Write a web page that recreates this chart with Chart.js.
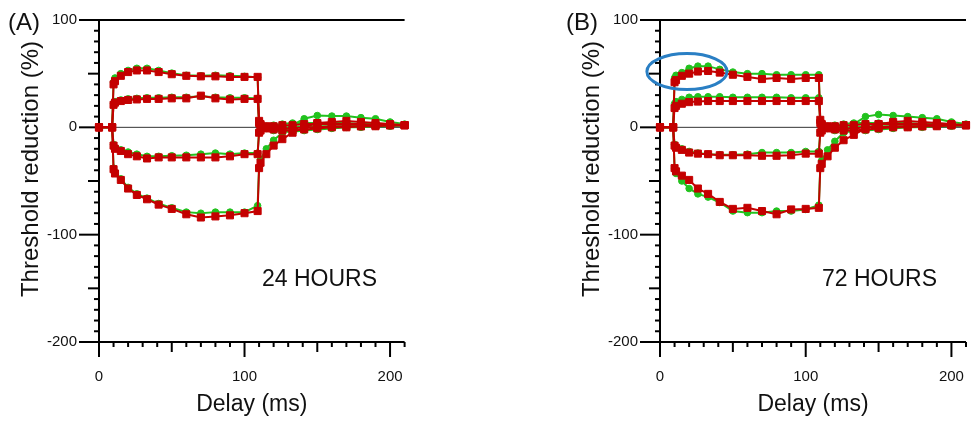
<!DOCTYPE html>
<html>
<head>
<meta charset="utf-8">
<title>Threshold electrotonus</title>
<script src="https://cdn.jsdelivr.net/npm/chart.js@4.4.1/dist/chart.umd.min.js"></script>
<style>
  html, body { margin: 0; padding: 0; background: #fff; overflow: hidden; }
  #wrap { position: relative; width: 976px; height: 422px; }
  canvas { position: absolute; top: 0; }
  .lbl { position: absolute; font-family: "Liberation Sans", Arial, sans-serif; color: #111; line-height: 1; white-space: nowrap; }
  .tag { top: 10px; font-size: 24px; }
  .hours { top: 267px; font-size: 23px; }
</style>
</head>
<body>
<div id="wrap">
  <canvas id="chartA" width="488" height="422" style="left:0"></canvas>
  <canvas id="chartB" width="488" height="422" style="left:488px"></canvas>
  <div class="lbl tag" style="left:8px">(A)</div>
  <div class="lbl tag" style="left:566px">(B)</div>
  <div class="lbl hours" style="left:262px">24 HOURS</div>
  <div class="lbl hours" style="left:822px">72 HOURS</div>
</div>
<script>
// Delays (ms) shared by every curve
const delays = [0, 9, 10, 11, 15, 20, 26, 33, 41, 50, 60, 70, 80, 90, 100, 109,
                110, 111, 115, 120, 126, 133, 141, 150, 160, 170, 180, 190, 200, 210];

// Axis ticks
const xTicks = [0, 100, 200];
const yTicks = [-200, -100, 0, 100];

// Panel A - 24 hours
const redA_TEd40   = [0, 0, 40, 43, 48, 51.5, 53, 53, 51.5, 49.5, 48, 47.5, 47.5, 47, 47, 47, 6, 3, 0, -2, -3, -3, -2, -1, 0, 0, 1, 1, 2, 2];
const greenA_TEd40 = [0, 0, 42, 46, 50, 53, 55, 55, 53, 50.5, 48.5, 48, 48.5, 48, 47.5, 46.5, 5, 2, -1, -3, -4, -4, -3, -2, -1, 0, 0, 1, 1, 2];
const redA_TEd20   = [0, 0, 21, 23, 24.5, 25.5, 26, 26.5, 26.5, 27, 27, 29.5, 27, 26, 26.5, 26.5, 4, 2, 1, 0, -1, -1, 0, 0, 1, 1, 1, 2, 2, 2];
const greenA_TEd20 = [0, 0, 22, 24, 25.5, 26.5, 27, 27.5, 27.5, 28, 28, 29, 28, 27.5, 27.5, 27, 4, 2, 1, 0, 0, 0, 1, 1, 1, 1, 2, 2, 2, 2];
const redA_TEh20   = [0, 0, -17, -20, -22, -25, -27, -29, -28, -28, -28, -28, -28, -27, -25, -25, -5, -3, -1, 1, 2, 2, 3, 3, 3, 3, 3, 2, 2, 2];
const greenA_TEh20 = [0, 0, -16, -19, -21, -23, -25, -27, -27, -26.5, -26, -25, -24, -25, -24, -24, -4, -2, 0, 2, 3, 4, 4, 4, 4, 4, 3, 3, 2, 2];
const redA_TEh40   = [0, 0, -39, -43, -49, -57, -63, -67, -72, -76, -81, -84, -83, -82, -80, -78, -38, -33, -25, -17, -11, -5, 0, 4, 5, 6, 5, 4, 3, 2];
const greenA_TEh40 = [0, 0, -38, -42, -48, -56, -62, -66, -71, -75, -79, -80, -79, -79, -79, -73, -37, -30, -20, -12, -5, 2, 8, 11, 10.5, 10.5, 9, 8, 5, 3];

// Panel B - 72 hours
const redB_TEd40   = [0, 0, 42, 44, 48, 50, 52, 52.5, 51, 49, 47, 45, 46, 45, 46, 46, 7, 3, 0, -2, -3, -3, -2, -1, 0, 0, 1, 1, 2, 2];
const greenB_TEd40 = [0, 0, 46, 48.5, 51, 55, 57, 57, 54, 51.5, 50, 50, 49, 49, 49, 49, 6, 2, -1, -3, -4, -4, -3, -2, -1, 0, 0, 1, 1, 2];
const redB_TEd20   = [0, 0, 18, 20, 22, 23.5, 24, 24.5, 24.5, 24.5, 24.5, 24.5, 24.5, 24.5, 24.5, 24.5, 4, 2, 1, 0, -1, -1, 0, 0, 1, 1, 1, 2, 2, 2];
const greenB_TEd20 = [0, 0, 22, 24, 26, 28, 28.5, 28.5, 28.5, 28, 28, 28, 28, 27.5, 27.5, 27.5, 4, 2, 1, 0, 0, 0, 1, 1, 1, 1, 2, 2, 2, 2];
const redB_TEh20   = [0, 0, -17, -19, -21, -23.5, -24.5, -25, -26, -26, -26, -26.5, -26.5, -26, -24.5, -24.5, -5, -3, -1, 1, 2, 2, 3, 3, 3, 3, 3, 2, 2, 2];
const greenB_TEh20 = [0, 0, -16, -18, -20, -22.5, -24, -25, -25.5, -25.5, -25, -23.5, -23.5, -23.5, -22.5, -22.5, -4, -2, 0, 2, 3, 4, 4, 4, 4, 4, 3, 3, 2, 2];
const redB_TEh40   = [0, 0, -38, -41, -45, -49, -57, -62, -69.5, -76, -75, -78, -81, -76.5, -76, -75, -38, -34, -27, -19, -12, -7, -1, 3, 5, 6, 5, 4, 3, 2];
const greenB_TEh40 = [0, 0, -38, -43, -50, -57, -62, -65, -70, -78, -79.5, -79.5, -78, -78, -76.5, -72.5, -37, -31, -21, -13, -5, 3, 10, 12, 11, 10, 9, 8, 5, 3];

// Highlighted region in panel B (data units: centre ms, centre %, half-width ms, half-height %)
const highlightB = { x: 18.5, y: 52, rx: 27.5, ry: 16.8 };

const RED = '#c40000';
const GREEN = '#22c21e';
const FONT = '"Liberation Sans", Arial, sans-serif';

function series(values, isRed) {
    const color = isRed ? RED : GREEN;
    return {
        data: delays.map((d, i) => ({ x: d, y: values[i] })),
        borderColor: color,
        backgroundColor: color,
        borderWidth: 2,
        pointStyle: isRed ? 'rect' : 'circle',
        pointRadius: isRed ? 5 : 3.3,
        pointBorderWidth: 1,
        order: isRed ? 0 : 1,
        clip: false,
        tension: 0
    };
}

function strokeLine(ctx, x1, y1, x2, y2) {
    ctx.beginPath();
    ctx.moveTo(x1, y1);
    ctx.lineTo(x2, y2);
    ctx.stroke();
}

// Axis lines, minor ticks, zero line, y title and the blue ellipse
const axisMarks = {
    id: 'axisMarks',
    beforeDatasetsDraw(chart, args, opts) {
        const { ctx, chartArea: a, scales: { x, y } } = chart;
        ctx.save();
        const y0 = y.getPixelForValue(0);
        ctx.strokeStyle = '#333';
        ctx.lineWidth = 1;
        strokeLine(ctx, a.left, y0, a.right, y0);

        ctx.strokeStyle = '#000';
        ctx.lineWidth = 2;
        strokeLine(ctx, a.left, a.top, a.right, a.top);
        strokeLine(ctx, a.left, a.bottom, a.right, a.bottom);
        strokeLine(ctx, a.left, a.top, a.left, a.bottom);

        for (let v = y.min; v <= y.max; v += 10) {
            const p = y.getPixelForValue(v);
            const len = v % 100 === 0 ? 20 : (v % 50 === 0 ? 11 : 5);
            strokeLine(ctx, a.left - len, p, a.left, p);
        }
        for (let v = x.min; v <= x.max; v += 10) {
            const p = x.getPixelForValue(v);
            const len = v % 100 === 0 ? 15 : (v % 50 === 0 ? 10 : 5);
            strokeLine(ctx, p, a.bottom, p, a.bottom + len);
        }

        // y axis title
        ctx.fillStyle = '#111';
        ctx.font = '24px ' + FONT;
        ctx.textAlign = 'center';
        ctx.textBaseline = 'middle';
        ctx.translate(opts.titleX, (a.top + a.bottom) / 2 - 12);
        ctx.rotate(-Math.PI / 2);
        ctx.fillText('Threshold reduction (%)', 0, 0);
        ctx.restore();
    },
    afterDatasetsDraw(chart, args, opts) {
        const h = opts.highlight;
        if (!h) return;
        const { ctx, scales: { x, y } } = chart;
        const cx = x.getPixelForValue(h.x);
        const cy = y.getPixelForValue(h.y);
        const rx = x.getPixelForValue(h.x + h.rx) - cx;
        const ry = cy - y.getPixelForValue(h.y + h.ry);
        ctx.save();
        ctx.strokeStyle = '#2a7fc4';
        ctx.lineWidth = 3;
        ctx.beginPath();
        ctx.ellipse(cx, cy, rx, ry, 0, 0, Math.PI * 2);
        ctx.stroke();
        ctx.restore();
    }
};

function makePanel(id, groups, yWidth, padRight, titleX, highlight) {
    const datasets = [];
    groups.forEach(g => {
        datasets.push(series(g[0], true));
        datasets.push(series(g[1], false));
    });
    return new Chart(document.getElementById(id), {
        type: 'line',
        data: { datasets },
        plugins: [axisMarks],
        options: {
            responsive: false,
            animation: false,
            devicePixelRatio: 1,
            layout: { padding: { top: 20, right: padRight, bottom: 0, left: 0 } },
            plugins: {
                legend: { display: false },
                tooltip: { enabled: false },
                axisMarks: { titleX, highlight }
            },
            scales: {
                x: {
                    type: 'linear',
                    min: 0,
                    max: 210,
                    afterFit: s => { s.height = 80; s.paddingLeft = 0; s.paddingRight = 0; },
                    afterBuildTicks: s => { s.ticks = xTicks.map(v => ({ value: v })); },
                    grid: { display: false, drawTicks: false },
                    border: { display: false },
                    ticks: { padding: 26, color: '#111', font: { family: FONT, size: 15 }, maxRotation: 0, autoSkip: false },
                    title: { display: true, text: 'Delay (ms)', color: '#111', font: { family: FONT, size: 23 }, padding: { top: 0, bottom: 4 } }
                },
                y: {
                    type: 'linear',
                    min: -200,
                    max: 100,
                    afterFit: s => { s.width = yWidth; s.paddingTop = 0; s.paddingBottom = 0; },
                    afterBuildTicks: s => { s.ticks = yTicks.map(v => ({ value: v })); },
                    grid: { display: false, drawTicks: false },
                    border: { display: false },
                    ticks: { padding: 22, color: '#111', font: { family: FONT, size: 15 }, autoSkip: false }
                }
            }
        }
    });
}

makePanel('chartA', [
    [redA_TEd40, greenA_TEd40],
    [redA_TEd20, greenA_TEd20],
    [redA_TEh20, greenA_TEh20],
    [redA_TEh40, greenA_TEh40]
], 99, 83.4, 31, null);

makePanel('chartB', [
    [redB_TEd40, greenB_TEd40],
    [redB_TEd20, greenB_TEd20],
    [redB_TEh20, greenB_TEh20],
    [redB_TEh40, greenB_TEh40]
], 172, 10, 104, highlightB);
</script>
</body>
</html>
